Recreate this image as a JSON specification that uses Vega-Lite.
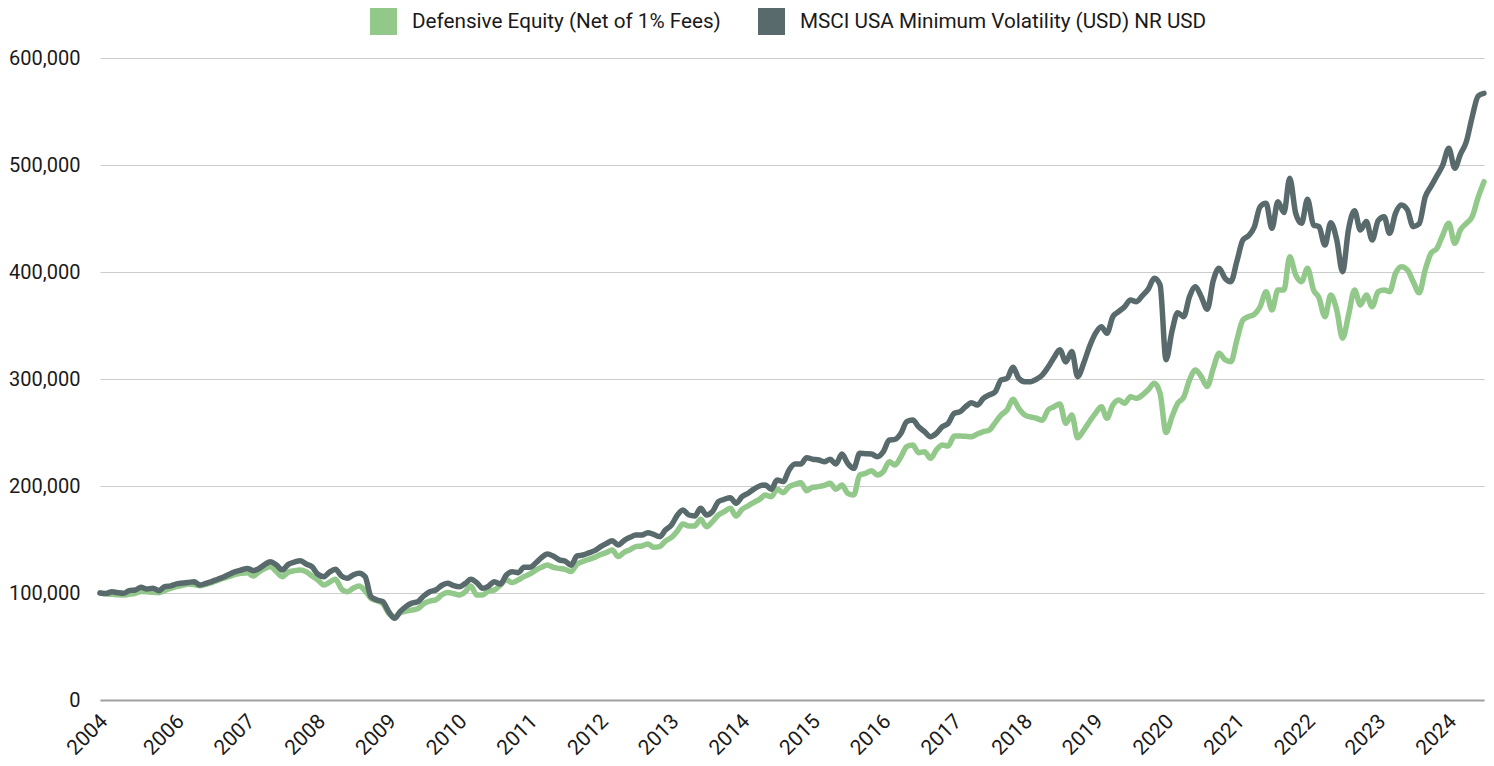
{
  "$schema": "https://vega.github.io/schema/vega-lite/v6.json",
  "width": 1384,
  "height": 642,
  "autosize": "none",
  "padding": {"left": 100, "top": 58, "right": 10, "bottom": 66},
  "config": {"view": {"stroke": null}, "background": "white", "font": "Roboto"},
  "data": {"values": [
{"d":"2004-12","a":100000,"b":100000},
{"d":"2005-01","a":99200,"b":99500},
{"d":"2005-02","a":98800,"b":101200},
{"d":"2005-03","a":98400,"b":100300},
{"d":"2005-04","a":98100,"b":99700},
{"d":"2005-05","a":98800,"b":102200},
{"d":"2005-06","a":99800,"b":102800},
{"d":"2005-07","a":101500,"b":105300},
{"d":"2005-08","a":101200,"b":103700},
{"d":"2005-09","a":100600,"b":104400},
{"d":"2005-10","a":100300,"b":102200},
{"d":"2005-11","a":102500,"b":105900},
{"d":"2005-12","a":104400,"b":106600},
{"d":"2006-01","a":106000,"b":108500},
{"d":"2006-02","a":107200,"b":109300},
{"d":"2006-03","a":108400,"b":109800},
{"d":"2006-04","a":107800,"b":110600},
{"d":"2006-05","a":106800,"b":107500},
{"d":"2006-06","a":108200,"b":109000},
{"d":"2006-07","a":109800,"b":110700},
{"d":"2006-08","a":111800,"b":112900},
{"d":"2006-09","a":113800,"b":115000},
{"d":"2006-10","a":115600,"b":117600},
{"d":"2006-11","a":117500,"b":119900},
{"d":"2006-12","a":118500,"b":121500},
{"d":"2007-01","a":119000,"b":123000},
{"d":"2007-02","a":115900,"b":120900},
{"d":"2007-03","a":119500,"b":122600},
{"d":"2007-04","a":123000,"b":126600},
{"d":"2007-05","a":124600,"b":129300},
{"d":"2007-06","a":119900,"b":126200},
{"d":"2007-07","a":115300,"b":121500},
{"d":"2007-08","a":119500,"b":126800},
{"d":"2007-09","a":120800,"b":128800},
{"d":"2007-10","a":121500,"b":130200},
{"d":"2007-11","a":119900,"b":127100},
{"d":"2007-12","a":116000,"b":124600},
{"d":"2008-01","a":112000,"b":117500},
{"d":"2008-02","a":107500,"b":115300},
{"d":"2008-03","a":110000,"b":119500},
{"d":"2008-04","a":112800,"b":122100},
{"d":"2008-05","a":104000,"b":116000},
{"d":"2008-06","a":101200,"b":113700},
{"d":"2008-07","a":104400,"b":116800},
{"d":"2008-08","a":106500,"b":118400},
{"d":"2008-09","a":102000,"b":115300},
{"d":"2008-10","a":95000,"b":96600},
{"d":"2008-11","a":92800,"b":93500},
{"d":"2008-12","a":90300,"b":91900},
{"d":"2009-01","a":81000,"b":82600},
{"d":"2009-02","a":77900,"b":76300},
{"d":"2009-03","a":81600,"b":82500},
{"d":"2009-04","a":83000,"b":87500},
{"d":"2009-05","a":84100,"b":90500},
{"d":"2009-06","a":85500,"b":92000},
{"d":"2009-07","a":90000,"b":97200},
{"d":"2009-08","a":92500,"b":101200},
{"d":"2009-09","a":93500,"b":102800},
{"d":"2009-10","a":98100,"b":107000},
{"d":"2009-11","a":100500,"b":109000},
{"d":"2009-12","a":99500,"b":107000},
{"d":"2010-01","a":98100,"b":105900},
{"d":"2010-02","a":101200,"b":109000},
{"d":"2010-03","a":106500,"b":112800},
{"d":"2010-04","a":98100,"b":109700},
{"d":"2010-05","a":98100,"b":104400},
{"d":"2010-06","a":102000,"b":106500},
{"d":"2010-07","a":102800,"b":110600},
{"d":"2010-08","a":107500,"b":108400},
{"d":"2010-09","a":112200,"b":116800},
{"d":"2010-10","a":109700,"b":119900},
{"d":"2010-11","a":112200,"b":119000},
{"d":"2010-12","a":115300,"b":124000},
{"d":"2011-01","a":117800,"b":124000},
{"d":"2011-02","a":121500,"b":128300},
{"d":"2011-03","a":124000,"b":133000},
{"d":"2011-04","a":126200,"b":136500},
{"d":"2011-05","a":124000,"b":134500},
{"d":"2011-06","a":123000,"b":131000},
{"d":"2011-07","a":122100,"b":129900},
{"d":"2011-08","a":120000,"b":126000},
{"d":"2011-09","a":127000,"b":134600},
{"d":"2011-10","a":129500,"b":135500},
{"d":"2011-11","a":131500,"b":137500},
{"d":"2011-12","a":133300,"b":139600},
{"d":"2012-01","a":136000,"b":143300},
{"d":"2012-02","a":138000,"b":146400},
{"d":"2012-03","a":140200,"b":148900},
{"d":"2012-04","a":134000,"b":144900},
{"d":"2012-05","a":138000,"b":149000},
{"d":"2012-06","a":140500,"b":152000},
{"d":"2012-07","a":143300,"b":154200},
{"d":"2012-08","a":143900,"b":154200},
{"d":"2012-09","a":145800,"b":156400},
{"d":"2012-10","a":142700,"b":154800},
{"d":"2012-11","a":143300,"b":152700},
{"d":"2012-12","a":148500,"b":158900},
{"d":"2013-01","a":152000,"b":163600},
{"d":"2013-02","a":158000,"b":172900},
{"d":"2013-03","a":164500,"b":177600},
{"d":"2013-04","a":162600,"b":172900},
{"d":"2013-05","a":162600,"b":172000},
{"d":"2013-06","a":168900,"b":179100},
{"d":"2013-07","a":162000,"b":172900},
{"d":"2013-08","a":166700,"b":176000},
{"d":"2013-09","a":173000,"b":185400},
{"d":"2013-10","a":176000,"b":187500},
{"d":"2013-11","a":179100,"b":189100},
{"d":"2013-12","a":172000,"b":183800},
{"d":"2014-01","a":178200,"b":190000},
{"d":"2014-02","a":181500,"b":193200},
{"d":"2014-03","a":184500,"b":196900},
{"d":"2014-04","a":187500,"b":200000},
{"d":"2014-05","a":191500,"b":200900},
{"d":"2014-06","a":190000,"b":196900},
{"d":"2014-07","a":196900,"b":205600},
{"d":"2014-08","a":193800,"b":204100},
{"d":"2014-09","a":199400,"b":215000},
{"d":"2014-10","a":201500,"b":220600},
{"d":"2014-11","a":203100,"b":220600},
{"d":"2014-12","a":195600,"b":226500},
{"d":"2015-01","a":198800,"b":225000},
{"d":"2015-02","a":199400,"b":224300},
{"d":"2015-03","a":200500,"b":222700},
{"d":"2015-04","a":202500,"b":224900},
{"d":"2015-05","a":196900,"b":220600},
{"d":"2015-06","a":200900,"b":229900},
{"d":"2015-07","a":193200,"b":221200},
{"d":"2015-08","a":191600,"b":216500},
{"d":"2015-09","a":210300,"b":230500},
{"d":"2015-10","a":211800,"b":230200},
{"d":"2015-11","a":214300,"b":229900},
{"d":"2015-12","a":210300,"b":227400},
{"d":"2016-01","a":213400,"b":232100},
{"d":"2016-02","a":222700,"b":243000},
{"d":"2016-03","a":219600,"b":243600},
{"d":"2016-04","a":227400,"b":249200},
{"d":"2016-05","a":236700,"b":260100},
{"d":"2016-06","a":238300,"b":261700},
{"d":"2016-07","a":231100,"b":255400},
{"d":"2016-08","a":232100,"b":250800},
{"d":"2016-09","a":225900,"b":246100},
{"d":"2016-10","a":233700,"b":249200},
{"d":"2016-11","a":238300,"b":255400},
{"d":"2016-12","a":237400,"b":258600},
{"d":"2017-01","a":246700,"b":267900},
{"d":"2017-02","a":246700,"b":269500},
{"d":"2017-03","a":246400,"b":274100},
{"d":"2017-04","a":246100,"b":277900},
{"d":"2017-05","a":248600,"b":275700},
{"d":"2017-06","a":250800,"b":281900},
{"d":"2017-07","a":252300,"b":285100},
{"d":"2017-08","a":259200,"b":288000},
{"d":"2017-09","a":266400,"b":299100},
{"d":"2017-10","a":271000,"b":300600},
{"d":"2017-11","a":281000,"b":310900},
{"d":"2017-12","a":272600,"b":300600},
{"d":"2018-01","a":266400,"b":297500},
{"d":"2018-02","a":264500,"b":297500},
{"d":"2018-03","a":263300,"b":299700},
{"d":"2018-04","a":261500,"b":303700},
{"d":"2018-05","a":271000,"b":311000},
{"d":"2018-06","a":274100,"b":320000},
{"d":"2018-07","a":276600,"b":327400},
{"d":"2018-08","a":258600,"b":316000},
{"d":"2018-09","a":266400,"b":325600},
{"d":"2018-10","a":245000,"b":302200},
{"d":"2018-11","a":252000,"b":314600},
{"d":"2018-12","a":260100,"b":330200},
{"d":"2019-01","a":267900,"b":342700},
{"d":"2019-02","a":274100,"b":348900},
{"d":"2019-03","a":263300,"b":342700},
{"d":"2019-04","a":275700,"b":358200},
{"d":"2019-05","a":280400,"b":363000},
{"d":"2019-06","a":277300,"b":367600},
{"d":"2019-07","a":283500,"b":373800},
{"d":"2019-08","a":281900,"b":372300},
{"d":"2019-09","a":285000,"b":378000},
{"d":"2019-10","a":290000,"b":384000},
{"d":"2019-11","a":296000,"b":394100},
{"d":"2019-12","a":286600,"b":388000},
{"d":"2020-01","a":250000,"b":318000},
{"d":"2020-02","a":265000,"b":345000},
{"d":"2020-03","a":277300,"b":362000},
{"d":"2020-04","a":282900,"b":358200},
{"d":"2020-05","a":299000,"b":376900},
{"d":"2020-06","a":308400,"b":386300},
{"d":"2020-07","a":302200,"b":376900},
{"d":"2020-08","a":293000,"b":365100},
{"d":"2020-09","a":310000,"b":392000},
{"d":"2020-10","a":324000,"b":403500},
{"d":"2020-11","a":318000,"b":394100},
{"d":"2020-12","a":316200,"b":391000},
{"d":"2021-01","a":336500,"b":410000},
{"d":"2021-02","a":355100,"b":429900},
{"d":"2021-03","a":358200,"b":433700},
{"d":"2021-04","a":360500,"b":442000},
{"d":"2021-05","a":367600,"b":461000},
{"d":"2021-06","a":381600,"b":464200},
{"d":"2021-07","a":364500,"b":440800},
{"d":"2021-08","a":383200,"b":465700},
{"d":"2021-09","a":383200,"b":455500},
{"d":"2021-10","a":414300,"b":487600},
{"d":"2021-11","a":397200,"b":454800},
{"d":"2021-12","a":391000,"b":445500},
{"d":"2022-01","a":403500,"b":467900},
{"d":"2022-02","a":383200,"b":443900},
{"d":"2022-03","a":376000,"b":442400},
{"d":"2022-04","a":358200,"b":425200},
{"d":"2022-05","a":378500,"b":446100},
{"d":"2022-06","a":364500,"b":430000},
{"d":"2022-07","a":338000,"b":400300},
{"d":"2022-08","a":359800,"b":440000},
{"d":"2022-09","a":383200,"b":457300},
{"d":"2022-10","a":369200,"b":439300},
{"d":"2022-11","a":378500,"b":447100},
{"d":"2022-12","a":367600,"b":429900},
{"d":"2023-01","a":381600,"b":448000},
{"d":"2023-02","a":383200,"b":451700},
{"d":"2023-03","a":381600,"b":436200},
{"d":"2023-04","a":398800,"b":455000},
{"d":"2023-05","a":405000,"b":462600},
{"d":"2023-06","a":401900,"b":458000},
{"d":"2023-07","a":391000,"b":442400},
{"d":"2023-08","a":380500,"b":445000},
{"d":"2023-09","a":401900,"b":470000},
{"d":"2023-10","a":417500,"b":480000},
{"d":"2023-11","a":422100,"b":490000},
{"d":"2023-12","a":434600,"b":500000},
{"d":"2024-01","a":445500,"b":515600},
{"d":"2024-02","a":426800,"b":497000},
{"d":"2024-03","a":439300,"b":510000},
{"d":"2024-04","a":445500,"b":522000},
{"d":"2024-05","a":451700,"b":545000},
{"d":"2024-06","a":470000,"b":564500},
{"d":"2024-07","a":484400,"b":567000}
  ]},
  "transform": [{"fold": ["a", "b"], "as": ["s", "v"]}],
  "mark": {"type": "line", "strokeWidth": 5.5, "interpolate": "monotone", "strokeCap": "round", "strokeJoin": "round"},
  "encoding": {
    "x": {
      "field": "d", "type": "temporal",
      "scale": {"type": "utc"},
      "axis": {
        "title": null,
        "values": [
          {"year": 2004, "month": 12, "date": 1, "utc": true},
          {"year": 2006, "month": 1, "date": 1, "utc": true},
          {"year": 2007, "month": 1, "date": 1, "utc": true},
          {"year": 2008, "month": 1, "date": 1, "utc": true},
          {"year": 2009, "month": 1, "date": 1, "utc": true},
          {"year": 2010, "month": 1, "date": 1, "utc": true},
          {"year": 2011, "month": 1, "date": 1, "utc": true},
          {"year": 2012, "month": 1, "date": 1, "utc": true},
          {"year": 2013, "month": 1, "date": 1, "utc": true},
          {"year": 2014, "month": 1, "date": 1, "utc": true},
          {"year": 2015, "month": 1, "date": 1, "utc": true},
          {"year": 2016, "month": 1, "date": 1, "utc": true},
          {"year": 2017, "month": 1, "date": 1, "utc": true},
          {"year": 2018, "month": 1, "date": 1, "utc": true},
          {"year": 2019, "month": 1, "date": 1, "utc": true},
          {"year": 2020, "month": 1, "date": 1, "utc": true},
          {"year": 2021, "month": 1, "date": 1, "utc": true},
          {"year": 2022, "month": 1, "date": 1, "utc": true},
          {"year": 2023, "month": 1, "date": 1, "utc": true},
          {"year": 2024, "month": 1, "date": 1, "utc": true}
        ],
        "labelExpr": "utcFormat(datum.value, '%Y')",
        "labelAngle": -45,
        "labelAlign": "right",
        "labelBaseline": "middle",
        "labelFont": "Roboto",
        "labelFontSize": 21,
        "labelColor": "#1a1a1a",
        "labelPadding": 18,
        "labelOffset": 4,
        "ticks": false,
        "grid": false,
        "domainColor": "#a0a0a0",
        "domainWidth": 2,
        "labelOverlap": false
      }
    },
    "y": {
      "field": "v", "type": "quantitative",
      "scale": {"domain": [0, 600000], "nice": false},
      "axis": {
        "title": null,
        "values": [0, 100000, 200000, 300000, 400000, 500000, 600000],
        "format": ",.0f",
        "grid": true,
        "gridColor": "#cccccc",
        "gridWidth": 1.2,
        "domain": false,
        "ticks": false,
        "labelPadding": 20,
        "labelFont": "Roboto",
        "labelFontSize": 20,
        "labelColor": "#1a1a1a"
      }
    },
    "color": {
      "field": "s", "type": "nominal",
      "scale": {"domain": ["a", "b"], "range": ["#92c88a", "#586a6b"]},
      "legend": {
        "orient": "none",
        "legendX": 270,
        "legendY": -50,
        "direction": "horizontal",
        "title": null,
        "padding": 0,
        "symbolType": "square",
        "symbolSize": 729,
        "symbolStrokeWidth": 0,
        "labelFont": "Roboto",
        "labelFontSize": 20.7,
        "labelColor": "#1a1a1a",
        "labelOffset": 15,
        "columnPadding": 37,
        "labelLimit": 600,
        "labelExpr": "datum.value == 'a' ? 'Defensive Equity (Net of 1% Fees)' : 'MSCI USA Minimum Volatility (USD) NR USD'",
        "encode": {"symbols": {"update": {"fill": {"scale": "color", "field": "value"}, "fillOpacity": {"value": 1}, "stroke": {"value": "transparent"}}}}
      }
    }
  }
}
